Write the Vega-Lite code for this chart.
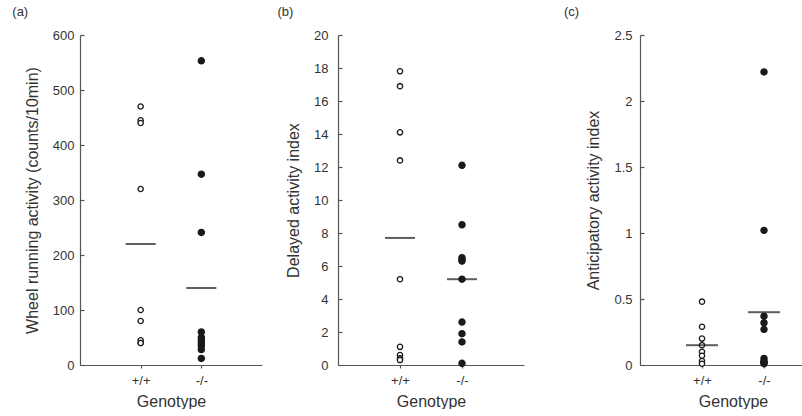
{
  "$schema": "https://vega.github.io/schema/vega-lite/v6.json",
  "padding": {"left": 12, "top": 6, "right": 0, "bottom": 0},
  "background": "white",
  "config": {
    "view": {"stroke": null},
    "font": "Liberation Sans",
    "axis": {"grid": false, "domainColor": "#555", "tickColor": "#555", "labelColor": "#333", "titleColor": "#333", "labelFontSize": 13, "titleFontSize": 16, "titleFontWeight": "normal", "domainWidth": 1.2, "tickWidth": 1.2, "labelOverlap": false},
    "title": {"fontSize": 13, "fontWeight": "normal", "anchor": "start", "color": "#333"}
  },
  "datasets": {
    "points": [
      {"panel": "a", "genotype": "+/+", "value": 470},
      {"panel": "a", "genotype": "+/+", "value": 445},
      {"panel": "a", "genotype": "+/+", "value": 440},
      {"panel": "a", "genotype": "+/+", "value": 320},
      {"panel": "a", "genotype": "+/+", "value": 100},
      {"panel": "a", "genotype": "+/+", "value": 80},
      {"panel": "a", "genotype": "+/+", "value": 45},
      {"panel": "a", "genotype": "+/+", "value": 40},
      {"panel": "a", "genotype": "+/+", "value": 40},
      {"panel": "a", "genotype": "-/-", "value": 553},
      {"panel": "a", "genotype": "-/-", "value": 347},
      {"panel": "a", "genotype": "-/-", "value": 241},
      {"panel": "a", "genotype": "-/-", "value": 60},
      {"panel": "a", "genotype": "-/-", "value": 50},
      {"panel": "a", "genotype": "-/-", "value": 45},
      {"panel": "a", "genotype": "-/-", "value": 40},
      {"panel": "a", "genotype": "-/-", "value": 35},
      {"panel": "a", "genotype": "-/-", "value": 28},
      {"panel": "a", "genotype": "-/-", "value": 12},
      {"panel": "b", "genotype": "+/+", "value": 17.8},
      {"panel": "b", "genotype": "+/+", "value": 16.9},
      {"panel": "b", "genotype": "+/+", "value": 14.1},
      {"panel": "b", "genotype": "+/+", "value": 12.4},
      {"panel": "b", "genotype": "+/+", "value": 5.2},
      {"panel": "b", "genotype": "+/+", "value": 1.1},
      {"panel": "b", "genotype": "+/+", "value": 0.6},
      {"panel": "b", "genotype": "+/+", "value": 0.4},
      {"panel": "b", "genotype": "+/+", "value": 0.3},
      {"panel": "b", "genotype": "-/-", "value": 12.1},
      {"panel": "b", "genotype": "-/-", "value": 8.5},
      {"panel": "b", "genotype": "-/-", "value": 6.5},
      {"panel": "b", "genotype": "-/-", "value": 6.4},
      {"panel": "b", "genotype": "-/-", "value": 6.3},
      {"panel": "b", "genotype": "-/-", "value": 5.2},
      {"panel": "b", "genotype": "-/-", "value": 2.6},
      {"panel": "b", "genotype": "-/-", "value": 1.9},
      {"panel": "b", "genotype": "-/-", "value": 1.4},
      {"panel": "b", "genotype": "-/-", "value": 0.1},
      {"panel": "c", "genotype": "+/+", "value": 0.48},
      {"panel": "c", "genotype": "+/+", "value": 0.29},
      {"panel": "c", "genotype": "+/+", "value": 0.2},
      {"panel": "c", "genotype": "+/+", "value": 0.15},
      {"panel": "c", "genotype": "+/+", "value": 0.1},
      {"panel": "c", "genotype": "+/+", "value": 0.07},
      {"panel": "c", "genotype": "+/+", "value": 0.03},
      {"panel": "c", "genotype": "+/+", "value": 0.01},
      {"panel": "c", "genotype": "-/-", "value": 2.22},
      {"panel": "c", "genotype": "-/-", "value": 1.02},
      {"panel": "c", "genotype": "-/-", "value": 0.37},
      {"panel": "c", "genotype": "-/-", "value": 0.32},
      {"panel": "c", "genotype": "-/-", "value": 0.27},
      {"panel": "c", "genotype": "-/-", "value": 0.05},
      {"panel": "c", "genotype": "-/-", "value": 0.03},
      {"panel": "c", "genotype": "-/-", "value": 0.02},
      {"panel": "c", "genotype": "-/-", "value": 0.02},
      {"panel": "c", "genotype": "-/-", "value": 0.01}
    ],
    "means": [
      {"panel": "a", "genotype": "+/+", "value": 220},
      {"panel": "a", "genotype": "-/-", "value": 140},
      {"panel": "b", "genotype": "+/+", "value": 7.7},
      {"panel": "b", "genotype": "-/-", "value": 5.2},
      {"panel": "c", "genotype": "+/+", "value": 0.15},
      {"panel": "c", "genotype": "-/-", "value": 0.4}
    ]
  },
  "spacing": 39,
  "hconcat": [
    {
      "spacing": 15,
      "hconcat": [
        {
          "width": 182, "height": 330,
          "title": {"text": "(a)", "dx": -12, "offset": 10},
          "layer": [
            {
              "data": {"name": "points"},
              "transform": [{"filter": "datum.panel == 'a'"}],
              "mark": {"type": "circle", "stroke": "#1a1a1a", "strokeWidth": 1.3, "opacity": 1},
              "encoding": {
                "x": {"field": "genotype", "type": "nominal", "scale": {"type": "point", "padding": 1, "domain": ["+/+", "-/-"]}, "axis": {"title": "Genotype", "labelAngle": 0, "tickSize": 3, "labelPadding": 6, "titlePadding": 6}},
                "y": {"field": "value", "type": "quantitative", "scale": {"domain": [0, 600], "nice": false}, "axis": {"title": "Wheel running activity (counts/10min)", "values": [0, 100, 200, 300, 400, 500, 600], "tickSize": -4, "labelPadding": 10, "titlePadding": 12}},
                "fill": {"field": "genotype", "type": "nominal", "scale": {"domain": ["+/+", "-/-"], "range": ["#ffffff", "#1a1a1a"]}, "legend": null},
                "size": {"field": "genotype", "type": "nominal", "scale": {"domain": ["+/+", "-/-"], "range": [28, 38]}, "legend": null}
              }
            },
            {
              "data": {"name": "means"},
              "transform": [{"filter": "datum.panel == 'a'"}],
              "mark": {"type": "tick", "size": 30, "thickness": 2, "color": "#1a1a1a"},
              "encoding": {
                "x": {"field": "genotype", "type": "nominal"},
                "y": {"field": "value", "type": "quantitative"}
              }
            }
          ]
        },
        {
          "width": 186, "height": 330,
          "title": {"text": "(b)", "dx": -8, "offset": 10},
          "layer": [
            {
              "data": {"name": "points"},
              "transform": [{"filter": "datum.panel == 'b'"}],
              "mark": {"type": "circle", "stroke": "#1a1a1a", "strokeWidth": 1.3, "opacity": 1},
              "encoding": {
                "x": {"field": "genotype", "type": "nominal", "scale": {"type": "point", "padding": 1, "domain": ["+/+", "-/-"]}, "axis": {"title": "Genotype", "labelAngle": 0, "tickSize": 3, "labelPadding": 6, "titlePadding": 6}},
                "y": {"field": "value", "type": "quantitative", "scale": {"domain": [0, 20], "nice": false}, "axis": {"title": "Delayed activity index", "values": [0, 2, 4, 6, 8, 10, 12, 14, 16, 18, 20], "labelOverlap": false, "tickCount": 11, "tickSize": -4, "labelPadding": 14, "titlePadding": 12}},
                "fill": {"field": "genotype", "type": "nominal", "scale": {"domain": ["+/+", "-/-"], "range": ["#ffffff", "#1a1a1a"]}, "legend": null},
                "size": {"field": "genotype", "type": "nominal", "scale": {"domain": ["+/+", "-/-"], "range": [28, 38]}, "legend": null}
              }
            },
            {
              "data": {"name": "means"},
              "transform": [{"filter": "datum.panel == 'b'"}],
              "mark": {"type": "tick", "size": 30, "thickness": 2, "color": "#1a1a1a"},
              "encoding": {
                "x": {"field": "genotype", "type": "nominal"},
                "y": {"field": "value", "type": "quantitative"}
              }
            }
          ]
        }
      ]
    },
    {
      "width": 186, "height": 330,
      "title": {"text": "(c)", "dx": -22, "offset": 10},
      "layer": [
        {
          "data": {"name": "points"},
          "transform": [{"filter": "datum.panel == 'c'"}],
          "mark": {"type": "circle", "stroke": "#1a1a1a", "strokeWidth": 1.3, "opacity": 1},
          "encoding": {
            "x": {"field": "genotype", "type": "nominal", "scale": {"type": "point", "padding": 1, "domain": ["+/+", "-/-"]}, "axis": {"title": "Genotype", "labelAngle": 0, "tickSize": 3, "labelPadding": 6, "titlePadding": 6}},
            "y": {"field": "value", "type": "quantitative", "scale": {"domain": [0, 2.5], "nice": false}, "axis": {"title": "Anticipatory activity index", "values": [0, 0.5, 1, 1.5, 2, 2.5], "format": ".1~f", "tickSize": -4, "labelPadding": 12, "titlePadding": 12}},
            "fill": {"field": "genotype", "type": "nominal", "scale": {"domain": ["+/+", "-/-"], "range": ["#ffffff", "#1a1a1a"]}, "legend": null},
            "size": {"field": "genotype", "type": "nominal", "scale": {"domain": ["+/+", "-/-"], "range": [28, 38]}, "legend": null}
          }
        },
        {
          "data": {"name": "means"},
          "transform": [{"filter": "datum.panel == 'c'"}],
          "mark": {"type": "tick", "size": 32, "thickness": 2, "color": "#1a1a1a"},
          "encoding": {
            "x": {"field": "genotype", "type": "nominal"},
            "y": {"field": "value", "type": "quantitative"}
          }
        }
      ]
    }
  ]
}
